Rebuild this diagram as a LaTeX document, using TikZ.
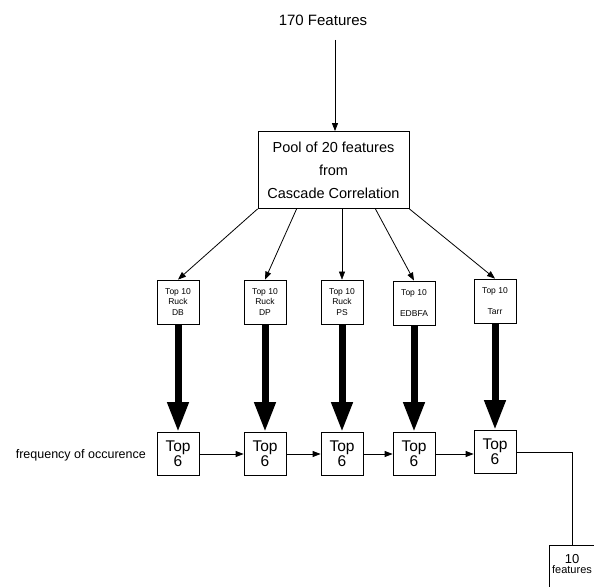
\documentclass[tikz,border=0pt]{standalone}
\usepackage{fontspec}
\setmainfont{Liberation Sans}
\usetikzlibrary{arrows.meta}
\begin{document}
\begin{tikzpicture}[x=1pt,y=-1pt,
  box/.style={draw,line width=0.8pt,inner sep=0pt,align=center},
  topten/.style={box,minimum width=42pt,minimum height=44pt,font=\fontsize{8.5}{10.5}\selectfont},
  topsix/.style={box,minimum width=42pt,minimum height=43pt,font=\fontsize{15.5}{14}\selectfont},
  arr/.style={line width=0.8pt,-{Triangle[length=8pt,width=6pt]}},
  fat/.style={line width=7pt,-{Triangle[length=30pt,width=20pt]}},
  plain/.style={line width=0.8pt}]
\useasboundingbox (0,0) rectangle (594,586);
\clip (0,0) rectangle (594,586);

\node[font=\fontsize{15}{16}\selectfont] (title) at (323,20) {170 Features};
\node[box,minimum width=151pt,minimum height=77pt,font=\fontsize{14.5}{23}\selectfont] (pool) at (333.5,170) {Pool of 20 features\\from\\Cascade Correlation};
\coordinate (tstart) at (335,40);

\node[topten] (t1) at (178,302) {Top 10\\Ruck\\DB};
\node[topten] (t2) at (265,302) {Top 10\\Ruck\\DP};
\node[topten] (t3) at (342,302) {Top 10\\Ruck\\PS};
\node[topten] (t4) at (414,303) {Top 10\\[10.5pt]EDBFA};
\node[topten] (t5) at (495,301) {Top 10\\[10.5pt]Tarr};

\node[topsix] (s1) at (178,454) {Top\\6};
\node[topsix] (s2) at (265,454) {Top\\6};
\node[topsix] (s3) at (342,454) {Top\\6};
\node[topsix] (s4) at (414,454) {Top\\6};
\node[topsix] (s5) at (495,452) {Top\\6};

\node[font=\fontsize{12.5}{14}\selectfont,anchor=east,inner sep=0pt] (freq) at (146,455) {frequency of occurence};
\node[box,minimum width=46pt,minimum height=46pt,text depth=8pt,font=\fontsize{11}{10}\selectfont] (ten) at (572,568) {{\fontsize{13}{13}\selectfont 10}\\features};

\draw[arr] (tstart) -- (pool.north -| tstart);
\draw[arr] (pool.south west) -- (t1.north);
\draw[arr] ([xshift=39pt]pool.south west) -- (t2.north);
\draw[arr,line width=0.5pt] (pool.south -| t3.north) -- (t3.north);
\draw[arr] ([xshift=-34pt]pool.south east) -- (t4.north);
\draw[arr] (pool.south east) -- (t5.north);

\draw[fat] (t1.south) -- (s1.north);
\draw[fat] (t2.south) -- (s2.north);
\draw[fat] (t3.south) -- (s3.north);
\draw[fat] (t4.south) -- (s4.north);
\draw[fat] (t5.south) -- (s5.north);

\draw[arr] (s1.east) -- (s2.west);
\draw[arr] (s2.east) -- (s3.west);
\draw[arr] (s3.east) -- (s4.west);
\draw[arr] (s4.east) -- (s4.east -| s5.west);
\draw[plain] (s5.east) -| (ten.north);
\end{tikzpicture}
\end{document}
